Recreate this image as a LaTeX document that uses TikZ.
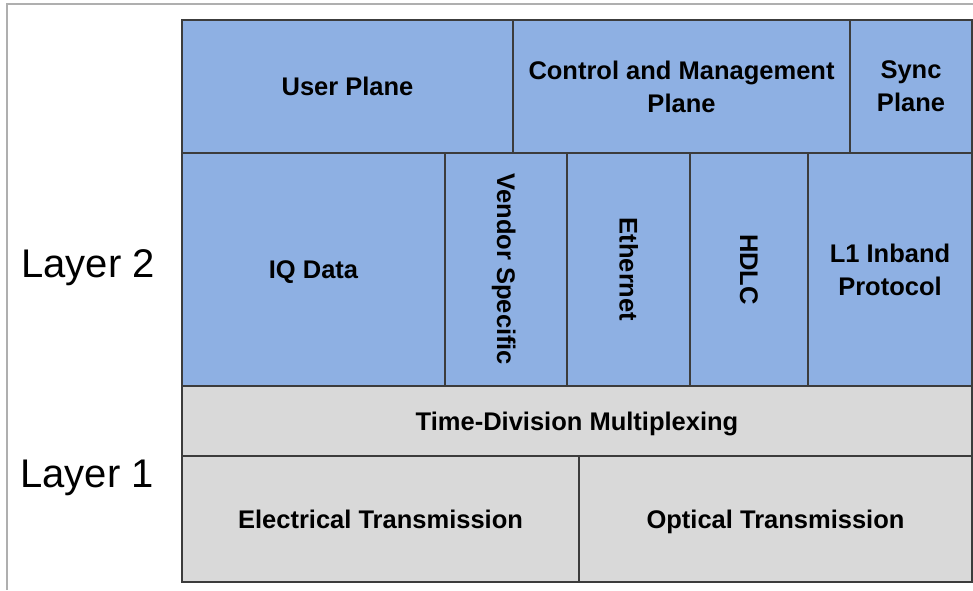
\documentclass[tikz,border=0pt]{standalone}
\usepackage{fontspec}
\setmainfont{Liberation Sans}
\definecolor{planeblue}{RGB}{142,176,227}
\definecolor{layergray}{RGB}{217,217,217}
\definecolor{edgegray}{RGB}{60,60,60}
\definecolor{framegray}{RGB}{175,175,175}
\tikzset{
  cell/.style={draw=edgegray, line width=1.3pt, inner sep=0pt, outer sep=0pt, align=center,
    font=\fontsize{25.5}{33}\selectfont\bfseries},
  oneline/.style={text height=23pt, text depth=5pt},
  bluecell/.style={cell, fill=planeblue},
  graycell/.style={cell, fill=layergray},
  layerlabel/.style={inner sep=0pt, font=\fontsize{40}{44}\selectfont},
  frameline/.style={draw=framegray, line width=1.2pt}
}
\begin{document}
\begin{tikzpicture}[x=1pt,y=-1pt]
\useasboundingbox (0,0) rectangle (973,590);
\coordinate (ftl) at (7,4);
\coordinate (ftr) at (973,4);
\coordinate (fbl) at (7,590);
\draw[frameline] (fbl) -- (ftl) -- (ftr);
% top row
\node[bluecell, oneline, minimum width=331pt, minimum height=133pt] (user) at (347.5,86.5) {User Plane};
\node[bluecell, minimum width=337pt, minimum height=133pt] (ctrl) at (681.5,86.5) {Control and Management\\Plane};
\node[bluecell, minimum width=122pt, minimum height=133pt] (sync) at (911,86.5) {Sync\\Plane};
% layer 2 row
\node[bluecell, oneline, minimum width=263pt, minimum height=233pt] (iq) at (313.5,269.5) {IQ Data};
\node[bluecell, oneline, rotate=-90, minimum width=233pt, minimum height=122pt] (vendor) at (506,269.5) {Vendor Specific};
\node[bluecell, oneline, rotate=-90, minimum width=233pt, minimum height=123pt] (eth) at (628.5,269.5) {Ethernet};
\node[bluecell, oneline, rotate=-90, minimum width=233pt, minimum height=118pt] (hdlc) at (749,269.5) {HDLC};
\node[bluecell, minimum width=164pt, minimum height=233pt] (l1) at (890,269.5) {L1 Inband\\Protocol};
% layer 1
\node[graycell, oneline, minimum width=790pt, minimum height=70pt] (tdm) at (577,421) {Time-Division Multiplexing};
\node[graycell, oneline, minimum width=397pt, minimum height=126pt] (elec) at (380.5,519) {Electrical Transmission};
\node[graycell, oneline, minimum width=393pt, minimum height=126pt] (opt) at (775.5,519) {Optical Transmission};
% layer labels
\node[layerlabel] (layer2) at (88,268) {Layer 2};
\node[layerlabel] (layer1) at (87,478) {Layer 1};
\end{tikzpicture}
\end{document}
